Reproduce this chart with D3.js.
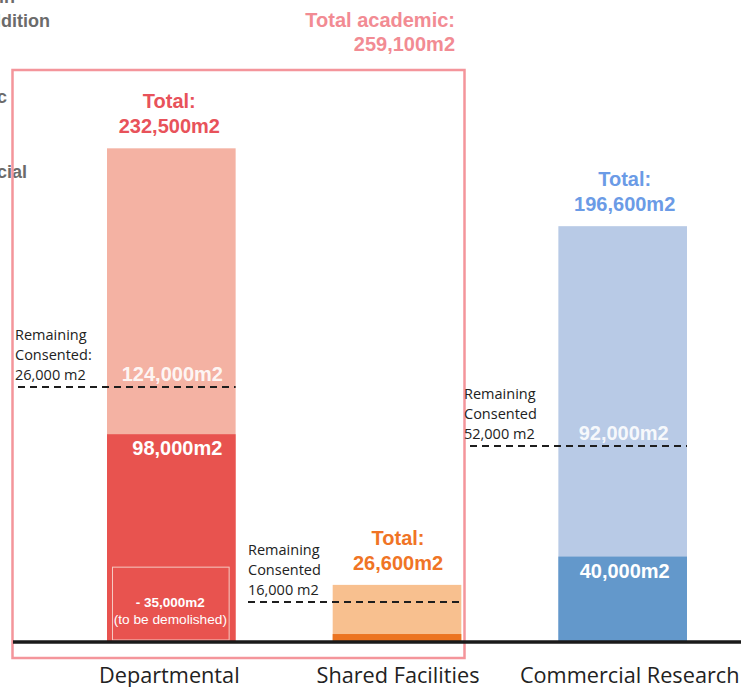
<!DOCTYPE html>
<html>
<head>
<meta charset="utf-8">
<script src="https://cdn.jsdelivr.net/npm/d3@7"></script>
<style>
  body { margin: 0; background: #fff; }
  svg { display: block; }
</style>
</head>
<body>
<div id="chart"></div>
<script>
// categories and values (m2)
const categories = ["Departmental", "Shared Facilities", "Commercial Research"];
const existing = [98000, 3300, 40000];          // darker bottom segment
const totals = [233500, 26600, 196600];         // full bar height
const consentedLevel = [120400, 18500, 92400];  // dashed line level
const totalLabels = ["232,500m2", "26,600m2", "196,600m2"];
const upperLabels = ["124,000m2", "", "92,000m2"];
const existingLabels = ["98,000m2", "", "40,000m2"];
const remainingLabels = [
    ["Remaining", "Consented:", "26,000 m2"],
    ["Remaining", "Consented", "16,000 m2"],
    ["Remaining", "Consented", "52,000 m2"]
];
const demolishedValue = 35000;
const academicTotal = ["Total academic:", "259,100m2"];
const legendTexts = ["Consented in", "addition", "Academic", "Commercial"];

const lightColors = ["#f4b2a3", "#f8c08f", "#b8cae6"];
const darkColors = ["#e8534f", "#ec7420", "#6398cb"];
const labelColors = ["#e8525a", "#f07425", "#6b9be6"];

const width = 741, height = 687;

const svg = d3.select("#chart")
    .append("svg")
    .attr("width", width)
    .attr("height", height);

// scales
const xScale = d3.scaleBand()
    .domain(categories)
    .range([107, 687])
    .paddingInner(0.43)
    .paddingOuter(0);

const yScale = d3.scaleLinear()
    .domain([0, 300000])
    .range([641, 8]);

const bw = xScale.bandwidth();

// cut-off legend at the left edge
const legend = svg.append("g")
    .attr("font-family", "Liberation Sans, Arial, sans-serif")
    .attr("font-weight", "bold")
    .attr("font-size", 18)
    .attr("fill", "#6b6b6b")
    .attr("text-anchor", "end");
[[15, 3], [50, 27], [7, 103], [27, 178]].forEach((p, i) => {
    legend.append("text").attr("x", p[0]).attr("y", p[1]).text(legendTexts[i]);
});

// light (total) bars
svg.selectAll(".bar-total")
    .data(categories)
    .enter()
    .append("rect")
    .attr("class", "bar-total")
    .attr("x", d => xScale(d))
    .attr("width", bw)
    .attr("y", (d, i) => yScale(totals[i]))
    .attr("height", (d, i) => yScale(0) - yScale(totals[i]))
    .attr("fill", (d, i) => lightColors[i]);

// dark (existing) bars
svg.selectAll(".bar-existing")
    .data(categories)
    .enter()
    .append("rect")
    .attr("class", "bar-existing")
    .attr("x", d => xScale(d))
    .attr("width", bw)
    .attr("y", (d, i) => yScale(existing[i]))
    .attr("height", (d, i) => yScale(0) - yScale(existing[i]))
    .attr("fill", (d, i) => darkColors[i]);

// demolished box inside departmental bar
const dx = xScale(categories[0]);
svg.append("rect")
    .attr("x", dx + 5.5)
    .attr("y", yScale(demolishedValue))
    .attr("width", bw - 12)
    .attr("height", yScale(0) - yScale(demolishedValue) - 1)
    .attr("fill", "none")
    .attr("stroke", "#f5c9c2")
    .attr("stroke-width", 1);
svg.append("text")
    .attr("x", dx + bw / 2 - 1)
    .attr("y", yScale(demolishedValue) + 40)
    .attr("text-anchor", "middle")
    .attr("font-family", "Liberation Sans, Arial, sans-serif")
    .attr("font-weight", "bold")
    .attr("font-size", 13.5)
    .attr("fill", "#fff")
    .text("- 35,000m2");
svg.append("text")
    .attr("x", dx + bw / 2 - 1)
    .attr("y", yScale(demolishedValue) + 57)
    .attr("text-anchor", "middle")
    .attr("font-family", "Liberation Sans, Arial, sans-serif")
    .attr("font-size", 13.7)
    .attr("fill", "#fff")
    .text("(to be demolished)");

// academic outline box
svg.append("rect")
    .attr("x", 12.5)
    .attr("y", 70)
    .attr("width", 452)
    .attr("height", 588)
    .attr("fill", "none")
    .attr("stroke", "#f4959b")
    .attr("stroke-width", 2.5);

// baseline
svg.append("line")
    .attr("x1", 13)
    .attr("x2", width)
    .attr("y1", yScale(0) + 1)
    .attr("y2", yScale(0) + 1)
    .attr("stroke", "#1a1a1a")
    .attr("stroke-width", 3.5);

// dashed consented lines
const dashStarts = [18, 248, 470];
svg.selectAll(".consented-line")
    .data(categories)
    .enter()
    .append("line")
    .attr("class", "consented-line")
    .attr("x1", (d, i) => dashStarts[i])
    .attr("x2", d => xScale(d) + bw)
    .attr("y1", (d, i) => yScale(consentedLevel[i]))
    .attr("y2", (d, i) => yScale(consentedLevel[i]))
    .attr("stroke", "#1e1e1e")
    .attr("stroke-width", 2)
    .attr("stroke-dasharray", "7 5");

// remaining consented notes
const noteStarts = [15, 248, 464];
remainingLabels.forEach((lines, i) => {
    const yBase = yScale(consentedLevel[i]) - 47;
    lines.forEach((t, j) => {
        svg.append("text")
            .attr("x", noteStarts[i])
            .attr("y", yBase + j * 20)
            .attr("font-family", "Open Sans, sans-serif")
            .attr("font-size", 14.5)
            .attr("fill", "#222")
            .text(t);
    });
});

// white labels inside bars
const barLabel = svg.append("g")
    .attr("font-family", "Liberation Sans, Arial, sans-serif")
    .attr("font-weight", "bold")
    .attr("font-size", 20)
    .attr("fill", "#fff")
    .attr("text-anchor", "middle");
categories.forEach((c, i) => {
    if (upperLabels[i]) {
        barLabel.append("text")
            .attr("x", xScale(c) + bw / 2 + 1)
            .attr("y", yScale(consentedLevel[i]) - 6)
            .attr("fill-opacity", 0.9)
            .text(upperLabels[i]);
    }
    if (existingLabels[i]) {
        barLabel.append("text")
            .attr("x", xScale(c) + bw / 2 + (i === 0 ? 6 : 2))
            .attr("y", yScale(existing[i]) + 21)
            .text(existingLabels[i]);
    }
});

// total labels above bars
const totalShift = [-2, 1, 2];
const totalG = svg.append("g")
    .attr("font-family", "Liberation Sans, Arial, sans-serif")
    .attr("font-weight", "bold")
    .attr("font-size", 20)
    .attr("text-anchor", "middle");
categories.forEach((c, i) => {
    const top = yScale(totals[i]);
    totalG.append("text")
        .attr("x", xScale(c) + bw / 2 + totalShift[i])
        .attr("y", top - 40)
        .attr("fill", labelColors[i])
        .text("Total:");
    totalG.append("text")
        .attr("x", xScale(c) + bw / 2 + totalShift[i])
        .attr("y", top - 15)
        .attr("fill", labelColors[i])
        .text(totalLabels[i]);
});

// total academic label
academicTotal.forEach((t, j) => {
    svg.append("text")
        .attr("x", 455)
        .attr("y", 27 + j * 24)
        .attr("text-anchor", "end")
        .attr("font-family", "Liberation Sans, Arial, sans-serif")
        .attr("font-weight", "bold")
        .attr("font-size", 20)
        .attr("fill", "#f28b93")
        .text(t);
});

// category labels
const catShift = [-2, 1, 7];
svg.selectAll(".cat-label")
    .data(categories)
    .enter()
    .append("text")
    .attr("class", "cat-label")
    .attr("x", (d, i) => xScale(d) + bw / 2 + catShift[i])
    .attr("y", 683)
    .attr("text-anchor", "middle")
    .attr("font-family", "Open Sans, sans-serif")
    .attr("font-size", 21.7)
    .attr("fill", "#222")
    .text(d => d);
</script>
</body>
</html>
